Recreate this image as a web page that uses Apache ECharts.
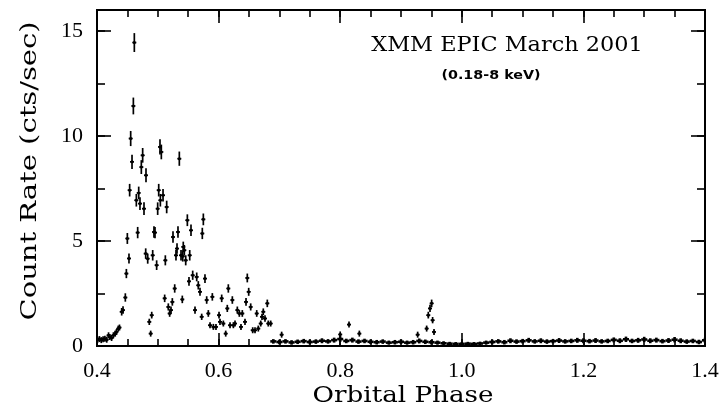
<!DOCTYPE html>
<html><head><meta charset="utf-8">
<script src="https://cdn.jsdelivr.net/npm/echarts@6/dist/echarts.min.js"></script>
<style>html,body{margin:0;padding:0;background:#fff}#c{width:722px;height:408px}</style>
</head><body><div id="c"></div><script>
// ---- Data ----
const flarePhase = [0.401,0.404,0.407,0.410,0.413,0.416,0.419,0.421,0.424,0.427,0.430,0.432,0.435,0.437,
0.4406,0.4428,0.4466,0.4483,0.4499,0.4526,0.4537,0.4554,0.4576,0.4598,0.4614,0.4647,0.4669,0.4686,0.4707,0.4729,
0.4751,0.4773,0.4801,0.4806,0.4834,0.4860,0.4883,0.4900,0.4916,0.4937,0.4954,0.4981,0.4998,0.5015,0.5036,0.5042,
0.5058,0.5086,0.5113,0.5124,0.5146,0.5173,0.5195,0.5217,0.5239,0.5250,0.5278,0.5299,0.5316,0.5332,0.5354,0.5382,
0.5403,0.5410,0.5419,0.5436,0.5459,0.5486,0.5513,0.5525,0.5546,0.5574,0.5612,0.5640,0.5666,0.5694,0.5722,0.5732,
0.5749,0.5776,0.5804,0.5831,0.5859,0.5897,0.5914,0.5957,0.6007,0.6023,0.6051,0.6078,0.6117,0.6143,0.6160,0.6188,
0.6226,0.6243,0.6270,0.6308,0.6341,0.6368,0.6390,0.6434,0.6451,0.6472,0.6495,0.6528,0.6561,0.6599,0.6627,0.6653,
0.6693,0.6714,0.6735,0.6763,0.6801,0.6817,0.6857,0.7037,0.8000,0.8145,0.8315,0.9274,0.9422,0.9449,0.9477,0.9504,
0.9520,0.9543];
const flareRate = [0.30,0.33,0.28,0.32,0.35,0.30,0.51,0.43,0.38,0.51,0.59,0.67,0.83,0.88,
1.63,1.71,2.31,3.45,5.12,4.17,7.42,9.88,8.77,11.43,14.45,6.94,5.40,7.29,6.78,8.52,
9.08,6.54,4.40,8.13,4.16,1.15,0.59,1.47,4.32,5.43,5.40,3.85,6.54,7.42,9.48,6.94,
9.24,7.18,2.27,4.08,6.62,1.86,1.55,1.71,2.10,5.19,2.74,4.32,4.64,5.43,8.92,4.32,
2.22,4.27,4.72,4.56,4.08,5.99,3.08,4.32,5.51,3.37,1.71,3.29,2.89,2.58,1.39,5.36,
6.03,3.21,2.19,1.55,0.99,2.34,0.91,0.91,1.47,1.15,2.27,1.07,0.59,1.79,2.74,0.99,
2.19,0.99,1.07,1.71,1.55,0.91,1.55,1.15,2.10,3.24,2.58,1.86,0.75,0.75,1.55,0.83,
1.07,1.39,1.63,1.31,2.03,1.07,1.07,0.54,0.55,1.02,0.59,0.54,0.83,1.47,1.79,2.03,
1.23,0.67];
const flareErr = [0.10,0.10,0.10,0.10,0.10,0.10,0.12,0.12,0.10,0.12,0.12,0.12,0.14,0.14,
0.18,0.18,0.20,0.22,0.26,0.24,0.30,0.36,0.34,0.40,0.45,0.30,0.27,0.30,0.30,0.33,
0.35,0.30,0.25,0.33,0.24,0.15,0.12,0.16,0.25,0.27,0.27,0.23,0.30,0.30,0.36,0.30,
0.35,0.30,0.18,0.24,0.30,0.17,0.16,0.17,0.18,0.27,0.20,0.25,0.25,0.27,0.34,0.25,
0.18,0.25,0.25,0.25,0.24,0.28,0.21,0.25,0.27,0.22,0.17,0.21,0.20,0.19,0.15,0.27,
0.28,0.21,0.18,0.16,0.14,0.18,0.14,0.14,0.16,0.15,0.18,0.14,0.12,0.17,0.20,0.14,
0.18,0.14,0.14,0.17,0.16,0.14,0.16,0.15,0.18,0.21,0.19,0.17,0.13,0.13,0.16,0.13,
0.14,0.15,0.16,0.15,0.18,0.14,0.14,0.12,0.12,0.14,0.12,0.12,0.14,0.16,0.17,0.18,
0.15,0.12];

const basePhase = [0.69,0.70,0.71,0.72,0.73,0.74,0.75,0.76,0.77,0.78,0.79,0.80,0.81,0.82,0.83,0.84,0.85,0.86,0.87,0.88,
0.89,0.90,0.91,0.92,0.93,0.94,0.95,0.96,0.97,0.98,0.99,1.00,1.01,1.02,1.03,1.04,1.05,1.06,1.07,1.08,
1.09,1.10,1.11,1.12,1.13,1.14,1.15,1.16,1.17,1.18,1.19,1.20,1.21,1.22,1.23,1.24,1.25,1.26,1.27,1.28,
1.29,1.30,1.31,1.32,1.33,1.34,1.35,1.36,1.37,1.38,1.39,1.40];
const baseRate = [0.22,0.19,0.22,0.17,0.20,0.23,0.19,0.21,0.25,0.22,0.28,0.33,0.24,0.28,0.21,0.24,0.20,0.18,0.21,0.16,
0.18,0.20,0.16,0.18,0.24,0.20,0.18,0.16,0.13,0.11,0.10,0.10,0.11,0.10,0.12,0.16,0.19,0.22,0.18,0.25,
0.21,0.23,0.27,0.22,0.25,0.21,0.23,0.26,0.22,0.24,0.27,0.25,0.23,0.26,0.22,0.24,0.29,0.25,0.32,0.24,
0.27,0.31,0.25,0.28,0.23,0.26,0.30,0.25,0.21,0.24,0.19,0.27];
const baseErr = [0.07,0.07,0.07,0.07,0.07,0.07,0.07,0.07,0.08,0.07,0.08,0.09,0.07,0.08,0.07,0.07,0.07,0.07,0.07,0.06,
0.07,0.07,0.06,0.07,0.08,0.07,0.07,0.06,0.06,0.05,0.05,0.05,0.05,0.05,0.05,0.06,0.07,0.07,0.07,0.08,
0.07,0.07,0.08,0.07,0.08,0.07,0.07,0.08,0.07,0.07,0.08,0.08,0.07,0.08,0.07,0.07,0.08,0.08,0.09,0.07,
0.08,0.09,0.08,0.08,0.07,0.08,0.09,0.08,0.07,0.07,0.07,0.08];
const baseBinHalf = 0.005;

const xTickLabels = ['0.4','0.6','0.8','1.0','1.2','1.4'];
const yTickLabels = ['0','5','10','15'];

// ---- Build ----
const flareData = flarePhase.map((p,i)=>[p, flareRate[i], flareErr[i]]);
const baseData = basePhase.map((p,i)=>[p, baseRate[i], baseErr[i], baseBinHalf]);

const BLACK = '#000';
function renderFlare(params, api){
  const x=api.value(0), y=api.value(1), e=api.value(2);
  const c=api.coord([x,y]), t=api.coord([x,y+e]), b=api.coord([x,Math.max(0,y-e)]);
  const s={stroke:BLACK, lineWidth:1.7};
  return {type:'group', children:[
    {type:'line', shape:{x1:c[0],y1:Math.min(t[1],c[1]-3),x2:c[0],y2:Math.max(b[1],c[1]+3)}, style:s},
    {type:'line', shape:{x1:c[0]-2,y1:c[1],x2:c[0]+2,y2:c[1]}, style:s},
    {type:'circle', shape:{cx:c[0],cy:c[1],r:1.5}, style:{fill:BLACK}}
  ]};
}
function renderBase(params, api){
  const x=api.value(0), y=api.value(1), e=api.value(2), h=api.value(3);
  const l=api.coord([x-h,y]), r=api.coord([x+h,y]);
  const t=api.coord([x,y+e]), b=api.coord([x,Math.max(0,y-e)]);
  const s={stroke:BLACK, lineWidth:2.6};
  return {type:'group', children:[
    {type:'line', shape:{x1:l[0],y1:l[1],x2:r[0],y2:r[1]}, style:s},
    {type:'line', shape:{x1:t[0],y1:t[1]-0.8,x2:b[0],y2:b[1]+0.8}, style:s}
  ]};
}

const lbl = {fontFamily:'Liberation Serif', fontSize:22, color:BLACK};
function xAx(pos, interval, len, labels){
  return {type:'value', position:pos, min:0.4, max:1.4, interval:interval,
    axisLine:{show:true, onZero:false, lineStyle:{color:BLACK, width:2}},
    axisTick:{show:true, inside:true, length:len, lineStyle:{color:BLACK, width:1.6}},
    axisLabel:{show:labels, margin:14, ...lbl,
      formatter:v=>{const s=v.toFixed(1); return xTickLabels.includes(s)?s:'';}},
    splitLine:{show:false}, minorTick:{show:false}};
}
function yAx(pos, interval, len, labels){
  return {type:'value', position:pos, min:0, max:16, interval:interval,
    axisLine:{show:true, onZero:false, lineStyle:{color:BLACK, width:2}},
    axisTick:{show:true, inside:true, length:len, lineStyle:{color:BLACK, width:1.6}},
    axisLabel:{show:labels, margin:14, ...lbl,
      formatter:v=>{const s=String(Math.round(v*100)/100); return yTickLabels.includes(s)?s:'';}},
    splitLine:{show:false}, minorTick:{show:false}};
}

const chart = echarts.init(document.getElementById('c'), null, {renderer:'canvas'});
chart.setOption({
  animation:false,
  backgroundColor:'#fff',
  grid:{left:97, right:17, top:10, bottom:62, containLabel:false},
  xAxis:[xAx('bottom',0.2,13,true), xAx('bottom',0.05,7,false), xAx('top',0.2,13,false), xAx('top',0.05,7,false)],
  yAxis:[yAx('left',5,14,true), yAx('left',2.5,8,false), yAx('right',5,14,false), yAx('right',2.5,8,false)],
  series:[
    {type:'custom', xAxisIndex:0, yAxisIndex:0, clip:true, renderItem:renderBase, data:baseData, silent:true},
    {type:'custom', xAxisIndex:0, yAxisIndex:0, clip:true, renderItem:renderFlare, data:flareData, silent:true}
  ],
  graphic:[
    {type:'text', x:507, y:46, scaleX:1.12, style:{text:'XMM EPIC March 2001', textAlign:'center', textVerticalAlign:'middle',
      font:'normal 20px "DejaVu Serif"', fill:BLACK}},
    {type:'text', x:491, y:76, scaleX:1.1, style:{text:'(0.18-8 keV)', textAlign:'center', textVerticalAlign:'middle',
      font:'bold 13px "DejaVu Sans"', fill:BLACK}},
    {type:'text', x:403, y:396, scaleX:1.19, style:{text:'Orbital Phase', textAlign:'center', textVerticalAlign:'middle',
      font:'normal 22px "DejaVu Serif"', fill:BLACK}},
    {type:'text', x:30, y:171, rotation:Math.PI/2, scaleX:1.26, style:{text:'Count Rate (cts/sec)', textAlign:'center', textVerticalAlign:'middle',
      font:'normal 23px "DejaVu Serif"', fill:BLACK}}
  ]
});
</script></body></html>
